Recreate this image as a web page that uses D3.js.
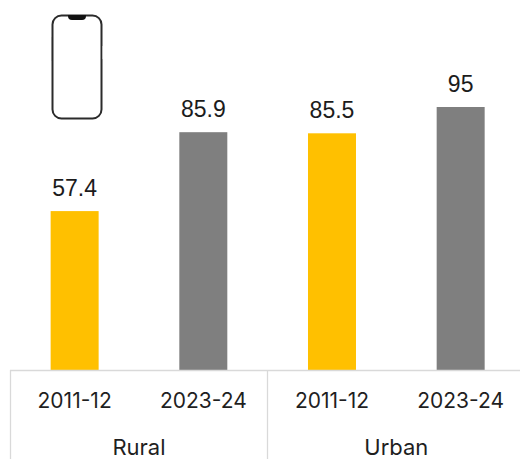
<!DOCTYPE html>
<html><head><meta charset="utf-8">
<script src="https://cdn.jsdelivr.net/npm/d3@7/dist/d3.min.js"></script>
<style>html,body{margin:0;padding:0;background:#fff}svg{display:block}</style>
</head><body><div id="c"></div>
<script>
const groups = ["Rural","Rural","Urban","Urban"];
const periods = ["2011-12","2023-24","2011-12","2023-24"];
const values = [57.4,85.9,85.5,95];
const valueLabels = ["57.4","85.9","85.5","95"];
const groupNames = ["Rural","Urban"];
const barColors = ["#FFC000","#7F7F7F"];

const W=520,H=459,base=370;
const svg=d3.select("#c").append("svg").attr("width",W).attr("height",H);
const keys=d3.range(values.length);
const x=d3.scaleBand().domain(keys).range([10.3,525]).paddingInner(0.627).paddingOuter(0.3135);
const y=d3.scaleLinear().domain([0,95]).range([base,107]);
const axisFont="Inter, 'Noto Sans', sans-serif";

svg.selectAll("rect.bar").data(values).join("rect").attr("class","bar")
  .attr("x",(d,i)=>x(i)).attr("width",x.bandwidth())
  .attr("y",d=>y(d)).attr("height",d=>base-y(d))
  .attr("fill",(d,i)=>barColors[i%2]);

svg.selectAll("text.val").data(values).join("text").attr("class","val")
  .attr("x",(d,i)=>x(i)+x.bandwidth()/2).attr("y",d=>y(d)-15)
  .attr("text-anchor","middle").attr("font-family","'Liberation Sans', Arial, sans-serif")
  .attr("font-size",23).attr("fill","#1c1c1c")
  .text((d,i)=>valueLabels[i]);

// category axis
const ax=svg.append("g").attr("transform",`translate(0,${base})`)
  .call(d3.axisBottom(x).tickSize(0).tickPadding(23).tickFormat(i=>periods[i]));
ax.select(".domain").remove();
ax.selectAll("text").attr("font-family",axisFont).attr("font-size",21).attr("fill","#1f1f1f");

// group frame and group labels
const line="#D9D9D9";
svg.append("line").attr("x1",10).attr("x2",W).attr("y1",370.5).attr("y2",370.5).attr("stroke",line).attr("stroke-width",1.3);
[10.5,267.5].forEach(px=>svg.append("line").attr("x1",px).attr("x2",px).attr("y1",370).attr("y2",H).attr("stroke",line).attr("stroke-width",1.3));
groupNames.forEach((g,k)=>{
  const idx=groups.map((v,i)=>v===g?i:-1).filter(i=>i>=0);
  const cx=d3.mean(idx,i=>x(i)+x.bandwidth()/2);
  svg.append("text").attr("x",cx).attr("y",455).attr("text-anchor","middle")
    .attr("font-family",axisFont).attr("font-size",22).attr("fill","#1f1f1f").text(g);
});

// phone icon
const p=svg.append("g");
p.append("rect").attr("x",52.5).attr("y",15.5).attr("width",49).attr("height",103).attr("rx",9)
  .attr("fill","#fff").attr("stroke","#2b2b2b").attr("stroke-width",2);
p.append("path").attr("d","M68 15 H86 V16 Q86 20 82 20 H72 Q68 20 68 16 Z").attr("fill","#111");
p.append("rect").attr("x",51).attr("y",37).attr("width",1).attr("height",24).attr("fill","#888");
p.append("rect").attr("x",102).attr("y",46).attr("width",1).attr("height",13).attr("fill","#bbb");
</script></body></html>
